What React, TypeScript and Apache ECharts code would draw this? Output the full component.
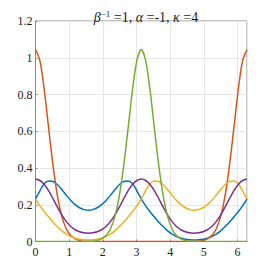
import React, { useEffect, useRef } from "react";
import * as echarts from "echarts";

const xs = [0, 0.1309, 0.2618, 0.3927, 0.5236, 0.6545, 0.7854, 0.9163, 1.0472, 1.1781, 1.309, 1.4399, 1.5708, 1.7017, 1.8326, 1.9635, 2.0944, 2.2253, 2.3562, 2.4871, 2.618, 2.7489, 2.8798, 3.0107, 3.1416, 3.2725, 3.4034, 3.5343, 3.6652, 3.7961, 3.927, 4.0579, 4.1888, 4.3197, 4.4506, 4.5815, 4.7124, 4.8433, 4.9742, 5.1051, 5.236, 5.3669, 5.4978, 5.6287, 5.7596, 5.8905, 6.0214, 6.1523, 6.2832];

const blue = [0.232, 0.276, 0.315, 0.329, 0.3265, 0.3085, 0.2815, 0.2515, 0.2235, 0.2004, 0.1836, 0.1735, 0.17, 0.1735, 0.1836, 0.2004, 0.2235, 0.2515, 0.2815, 0.3085, 0.3265, 0.329, 0.315, 0.276, 0.232, 0.194, 0.162, 0.133, 0.105, 0.08, 0.058, 0.04, 0.027, 0.018, 0.012, 0.009, 0.008, 0.009, 0.012, 0.018, 0.027, 0.04, 0.058, 0.08, 0.105, 0.133, 0.162, 0.194, 0.232];

const red = [1.045, 0.984, 0.823, 0.613, 0.409, 0.246, 0.134, 0.068, 0.032, 0.014, 0.006, 0.002, 0.001, 0, 0, 0, 0, 0, 0, 0, 0, 0, 0, 0, 0, 0, 0, 0, 0, 0, 0, 0, 0, 0, 0, 0, 0.001, 0.002, 0.006, 0.014, 0.032, 0.068, 0.134, 0.246, 0.409, 0.613, 0.823, 0.984, 1.045];

const yellow = [0.232, 0.194, 0.162, 0.133, 0.105, 0.08, 0.058, 0.04, 0.027, 0.018, 0.012, 0.009, 0.008, 0.009, 0.012, 0.018, 0.027, 0.04, 0.058, 0.08, 0.105, 0.133, 0.162, 0.194, 0.232, 0.276, 0.315, 0.329, 0.3265, 0.3085, 0.2815, 0.2515, 0.2235, 0.2004, 0.1836, 0.1735, 0.17, 0.1735, 0.1836, 0.2004, 0.2235, 0.2515, 0.2815, 0.3085, 0.3265, 0.329, 0.315, 0.276, 0.232];

const purple = [0.34, 0.332, 0.31, 0.275, 0.232, 0.186, 0.143, 0.108, 0.082, 0.064, 0.053, 0.047, 0.045, 0.047, 0.053, 0.064, 0.082, 0.108, 0.143, 0.186, 0.232, 0.275, 0.31, 0.332, 0.34, 0.332, 0.31, 0.275, 0.232, 0.186, 0.143, 0.108, 0.082, 0.064, 0.053, 0.047, 0.045, 0.047, 0.053, 0.064, 0.082, 0.108, 0.143, 0.186, 0.232, 0.275, 0.31, 0.332, 0.34];

const green = [0, 0, 0, 0, 0, 0, 0, 0, 0, 0, 0, 0, 0.001, 0.002, 0.006, 0.014, 0.032, 0.068, 0.134, 0.246, 0.409, 0.613, 0.823, 0.984, 1.045, 0.984, 0.823, 0.613, 0.409, 0.246, 0.134, 0.068, 0.032, 0.014, 0.006, 0.002, 0.001, 0, 0, 0, 0, 0, 0, 0, 0, 0, 0, 0, 0];

const seriesDefs = [
  { name: "s1", data: blue, color: "#0072BD" },
  { name: "s2", data: red, color: "#D95319" },
  { name: "s3", data: yellow, color: "#EDB120" },
  { name: "s4", data: purple, color: "#7E2F8E" },
  { name: "s5", data: green, color: "#77AC30" },
];

const FONT = "'Liberation Serif', serif";

export default function App() {
  const ref = useRef<HTMLDivElement>(null);
  useEffect(() => {
    if (!ref.current) return;
    const chart = echarts.init(ref.current, null, { renderer: "svg" });
    const base = { fontFamily: FONT, fontWeight: "normal" as const, color: "#1a1a1a" };
    chart.setOption({
      animation: false,
      textStyle: { fontFamily: FONT },
      title: {
        text: "{i|β}{sup|−1}{n| =1, }{i|α}{n| =-1, }{i|κ}{n| =4}",
        left: 141,
        textAlign: "center",
        top: 4,
        textStyle: {
          ...base,
          fontSize: 14,
          rich: {
            i: { ...base, fontStyle: "italic", fontSize: 14, lineHeight: 15, verticalAlign: "bottom" },
            n: { ...base, fontSize: 14, lineHeight: 15, verticalAlign: "bottom" },
            sup: { ...base, fontSize: 9, lineHeight: 9, verticalAlign: "top" },
          },
        },
      },
      grid: {
        left: 35.5,
        right: 27,
        top: 21,
        bottom: 31.5,
        show: true,
        borderColor: "#8a8a8a",
        borderWidth: 1,
        backgroundColor: "transparent",
      },
      xAxis: {
        type: "value",
        min: 0,
        max: 6.2832,
        interval: 1,
        axisLine: { show: true, lineStyle: { color: "#8a8a8a", width: 1 } },
        axisTick: { show: true, inside: true, length: 2, lineStyle: { color: "#8a8a8a" } },
        axisLabel: { ...base, showMaxLabel: false, fontSize: 12, margin: 4 },
        splitLine: { show: true, lineStyle: { color: "#e6e6e6", width: 1 } },
      },
      yAxis: {
        type: "value",
        min: 0,
        max: 1.2,
        interval: 0.2,
        axisLine: { show: true, lineStyle: { color: "#8a8a8a", width: 1 } },
        axisTick: { show: true, inside: true, length: 2, lineStyle: { color: "#8a8a8a" } },
        axisLabel: {
          ...base,
          fontSize: 12,
          margin: 3,
          formatter: (v: number) => String(Math.round(v * 10) / 10),
        },
        splitLine: { show: true, lineStyle: { color: "#e6e6e6", width: 1 } },
      },
      series: seriesDefs.map((s) => ({
        name: s.name,
        type: "line",
        data: xs.map((x, i) => [x, s.data[i]]),
        showSymbol: false,
        symbol: "none",
        smooth: 0.3,
        lineStyle: { color: s.color, width: 1.5 },
        itemStyle: { color: s.color },
        clip: true,
      })),
    });
    return () => chart.dispose();
  }, []);
  return <div ref={ref} style={{ width: 274, height: 273, marginLeft: -8, marginTop: -8 }} />;
}
